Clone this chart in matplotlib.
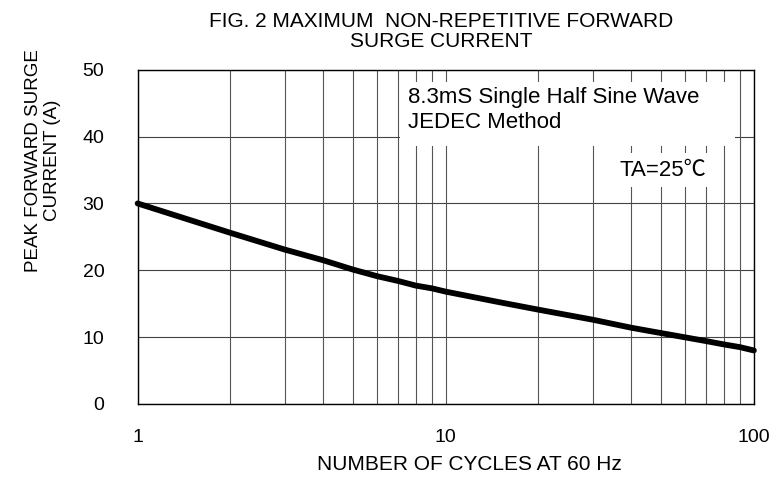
import matplotlib
matplotlib.use("Agg")
import matplotlib.pyplot as plt
from matplotlib.patches import Rectangle

plt.rcParams['font.family'] = ['Liberation Sans', 'Noto Sans CJK SC', 'DejaVu Sans']

# values
cycles = [1, 2, 3, 4, 5, 6, 7, 8, 9, 10, 15, 20, 30, 40, 50, 60, 70, 80, 90, 100]
current = [30, 25.6, 23.1, 21.5, 20.1, 19.1, 18.4, 17.7, 17.3, 16.8,
           15.2, 14.1, 12.6, 11.4, 10.6, 9.95, 9.4, 8.9, 8.5, 8.0]

x_ticks = [1, 10, 100]
x_ticklabels = ["1", "10", "100"]
y_ticks = [0, 10, 20, 30, 40, 50]

fig = plt.figure(figsize=(7.82, 4.78), dpi=100)
ax = fig.add_axes([0.176, 0.155, 0.788, 0.699])

ax.set_xscale("log")
ax.set_xlim(1, 100)
ax.set_ylim(0, 50)

# grid: every minor decade line and every 10 A
ax.grid(True, which="both", axis="x", color="#555555", linewidth=0.8)
ax.grid(True, which="major", axis="y", color="#444444", linewidth=0.8)
ax.set_axisbelow(True)

ax.plot(cycles, current, color="black", linewidth=4.2, solid_capstyle="round",
        clip_on=False, zorder=5)

ax.set_xticks(x_ticks)
ax.set_xticklabels(x_ticklabels)
ax.set_yticks(y_ticks)
ax.tick_params(which="both", length=0, labelsize=14)
ax.tick_params(axis="y", pad=24)
ax.tick_params(axis="x", pad=18)

for s in ax.spines.values():
    s.set_color("black")
    s.set_linewidth(1.0)

# white panel behind the test conditions
ax.add_patch(Rectangle((0.426, 0.772), 0.544, 0.19, transform=ax.transAxes,
                       facecolor="white", edgecolor="none", zorder=2))
ax.text(0.438, 0.947, "8.3mS Single Half Sine Wave\nJEDEC Method",
        transform=ax.transAxes, fontsize=16, va="top", ha="left",
        linespacing=1.2, zorder=3)
ax.text(0.782, 0.70, "TA=25℃", transform=ax.transAxes, fontsize=16,
        va="center", ha="left", zorder=3,
        bbox=dict(facecolor="white", edgecolor="none", pad=5))

ax.set_xlabel("NUMBER OF CYCLES AT 60 Hz", fontsize=15)
ax.xaxis.set_label_coords(0.538, -0.152)

fig.text(0.564, 0.975, "FIG. 2 MAXIMUM  NON-REPETITIVE FORWARD\nSURGE CURRENT",
         ha="center", va="top", fontsize=15, linespacing=1.1)
fig.text(0.055, 0.665, "PEAK FORWARD SURGE\nCURRENT (A)", rotation=90,
         ha="center", va="center", fontsize=13.5, linespacing=1.1)

fig.savefig("out.png", dpi=100, facecolor="white")
